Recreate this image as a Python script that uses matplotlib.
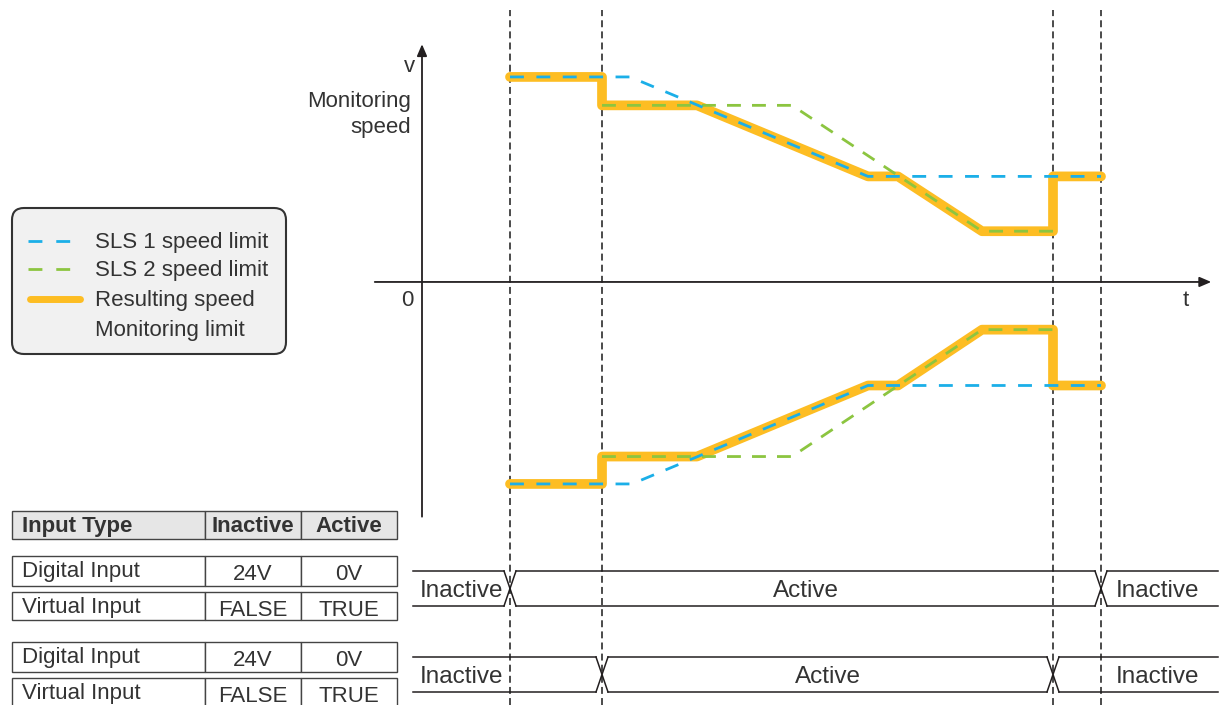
import matplotlib
matplotlib.use("Agg")
import matplotlib.pyplot as plt
import matplotlib.transforms as mtransforms
from matplotlib.patches import FancyBboxPatch, Rectangle

plt.rcParams['font.family'] = ['Liberation Sans', 'DejaVu Sans']
plt.rcParams['lines.scale_dashes'] = False

# ---- data -------------------------------------------------------------
# event times (SLS1 on, SLS2 on, SLS2 off, SLS1 off)
event_t = [0.88, 1.80, 6.31, 6.79]

# positive monitoring limits
sls1_t = [0.88, 2.08, 4.46, 6.79]
sls1_v = [101, 101, 52, 52]
sls2_t = [1.80, 3.70, 5.60, 6.31]
sls2_v = [87, 87, 25, 25]
res_t = [0.88, 1.80, 1.80, 2.75, 4.46, 4.76, 5.60, 6.31, 6.31, 6.79]
res_v = [101, 101, 87, 87, 52, 52, 25, 25, 52, 52]

# negative monitoring limits
sls1_t_neg = [0.88, 2.10, 4.46, 6.79]
sls1_v_neg = [-99.5, -99.5, -51, -51]
sls2_t_neg = [1.80, 3.70, 5.60, 6.31]
sls2_v_neg = [-86, -86, -23.5, -23.5]
res_t_neg = [0.88, 1.80, 1.80, 2.75, 4.46, 4.76, 5.60, 6.31, 6.31, 6.79]
res_v_neg = [-99.5, -99.5, -86, -86, -51, -51, -23.5, -23.5, -51, -51]

legend_labels = ['SLS 1 speed limit', 'SLS 2 speed limit', 'Resulting speed', 'Monitoring limit']

table_header = ['Input Type', 'Inactive', 'Active']
table_rows = [['Digital Input', '24V', '0V'],
              ['Virtual Input', 'FALSE', 'TRUE'],
              ['Digital Input', '24V', '0V'],
              ['Virtual Input', 'FALSE', 'TRUE']]

# timing rows: (on time, off time)
timing = [(event_t[0], event_t[3]), (event_t[1], event_t[2])]

# ---- style ------------------------------------------------------------
BLUE = '#1bafe8'
GREEN = '#8cc540'
ORANGE = '#fdbd23'
INK = '#231f20'
TXT = '#333333'
FS = 16

fig = plt.figure(figsize=(12.24, 7.05), dpi=100)

# pixel-space layer for table, legend and timing rows
ax_bg = fig.add_axes([0, 0, 1, 1])
ax_bg.set_xlim(0, 1224)
ax_bg.set_ylim(705, 0)
ax_bg.axis('off')

# speed chart layer (t, v)
ax = fig.add_axes([0, 0, 1, 1])
ax.set_xlim(-4.22, 8.02)
ax.set_ylim(-208.4, 138.9)
ax.axis('off')
ax.patch.set_visible(False)

# axes with arrows
ax.annotate('', xy=(0, 118.5), xytext=(0, -117),
            arrowprops=dict(arrowstyle='-|>,head_length=0.7,head_width=0.3', color=INK, lw=1.3))
ax.annotate('', xy=(7.92, 0), xytext=(-0.5, 0),
            arrowprops=dict(arrowstyle='-|>,head_length=0.7,head_width=0.3', color=INK, lw=1.3))
ax.text(-0.15, -11.8, '0', ha='center', va='baseline', fontsize=FS, color=TXT)
ax.text(7.64, -11.8, 't', ha='center', va='baseline', fontsize=FS, color=TXT)
ax.text(-0.13, 103.5, 'v', ha='center', va='baseline', fontsize=FS, color=TXT)
ax.text(-0.11, 86, 'Monitoring', ha='right', va='baseline', fontsize=FS, color=TXT)
ax.text(-0.11, 73.4, 'speed', ha='right', va='baseline', fontsize=FS, color=TXT)

# event lines
for t in event_t:
    ax.axvline(t, ymin=0, ymax=0.986, color='#1a1a1a', lw=1.1, linestyle=(0, (5, 3)), zorder=1)

# speed curves
for rt, rv in [(res_t, res_v), (res_t_neg, res_v_neg)]:
    ax.plot(rt, rv, color=ORANGE, lw=7.0, solid_joinstyle='round', solid_capstyle='round', zorder=2)
for st, sv in [(sls2_t, sls2_v), (sls2_t_neg, sls2_v_neg)]:
    ax.plot(st, sv, color=GREEN, lw=2.0, linestyle=(0, (10, 8)), zorder=3)
for st, sv in [(sls1_t, sls1_v), (sls1_t_neg, sls1_v_neg)]:
    ax.plot(st, sv, color=BLUE, lw=2.0, linestyle=(0, (10, 9)), zorder=4)

# ---- legend -----------------------------------------------------------
ax_bg.add_patch(FancyBboxPatch((12, 208), 274, 146, boxstyle='round,pad=0,rounding_size=12',
                               facecolor='#f1f1f1', edgecolor='#333333', lw=1.5))
leg_y = [241, 269, 299, 329]
leg_base = [248, 276, 306, 336]
ax_bg.plot([28, 82], [leg_y[0]] * 2, color=BLUE, lw=2.0, linestyle=(0, (10, 10)))
ax_bg.plot([28, 82], [leg_y[1]] * 2, color=GREEN, lw=2.0, linestyle=(0, (10, 10)))
ax_bg.plot([30, 80], [leg_y[2]] * 2, color=ORANGE, lw=5, solid_capstyle='round')
for y, lab in zip(leg_base, legend_labels):
    ax_bg.text(95, y, lab, ha='left', va='baseline', fontsize=FS, color=TXT)

# ---- table ------------------------------------------------------------
col_x = [12, 205, 301, 397]
head_y = (511, 539)
row_y = [(556, 586), (592, 620), (642, 672), (678, 708)]
for k in range(3):
    ax_bg.add_patch(Rectangle((col_x[k], head_y[0]), col_x[k + 1] - col_x[k], head_y[1] - head_y[0],
                              facecolor='#e6e6e6', edgecolor='#444444', lw=1.0))
ax_bg.text(22, 532, table_header[0], ha='left', va='baseline', fontsize=FS, fontweight='bold', color=TXT)
for k in (1, 2):
    ax_bg.text((col_x[k] + col_x[k + 1]) / 2, 532, table_header[k], ha='center', va='baseline',
               fontsize=FS, fontweight='bold', color=TXT)
for (y0, y1), row in zip(row_y, table_rows):
    for k in range(3):
        ax_bg.add_patch(Rectangle((col_x[k], y0), col_x[k + 1] - col_x[k], y1 - y0,
                                  facecolor='white', edgecolor='#444444', lw=1.0))
    ax_bg.text(22, y0 + 21, row[0], ha='left', va='baseline', fontsize=FS, color=TXT)
    for k in (1, 2):
        ax_bg.text((col_x[k] + col_x[k + 1]) / 2, y0 + 23.5, row[k], ha='center', va='baseline',
                   fontsize=FS, color=TXT)

# ---- timing rows ------------------------------------------------------
trans = mtransforms.blended_transform_factory(ax.transData, ax_bg.transData)
t_start, t_end, hw = -0.09, 7.96, 0.06
for (t_on, t_off), (top, bot) in zip(timing, [(571, 606), (657, 692)]):
    base = (top + bot) / 2 + 8.5
    for a, b in [(t_start, t_on - hw), (t_on + hw, t_off - hw), (t_off + hw, t_end)]:
        ax_bg.plot([a, b], [top, top], color=INK, lw=1.1, transform=trans)
        ax_bg.plot([a, b], [bot, bot], color=INK, lw=1.1, transform=trans)
    for te in (t_on, t_off):
        ax_bg.plot([te - hw, te + hw], [top, bot], color=INK, lw=1.1, transform=trans)
        ax_bg.plot([te - hw, te + hw], [bot, top], color=INK, lw=1.1, transform=trans)
    ax_bg.text(t_start + 0.07, base, 'Inactive', ha='left', va='baseline', fontsize=17.5, color=TXT, transform=trans)
    ax_bg.text((t_on + t_off) / 2, base, 'Active', ha='center', va='baseline', fontsize=17.5, color=TXT, transform=trans)
    ax_bg.text(6.94, base, 'Inactive', ha='left', va='baseline', fontsize=17.5, color=TXT, transform=trans)

fig.savefig('out.png', dpi=100)
